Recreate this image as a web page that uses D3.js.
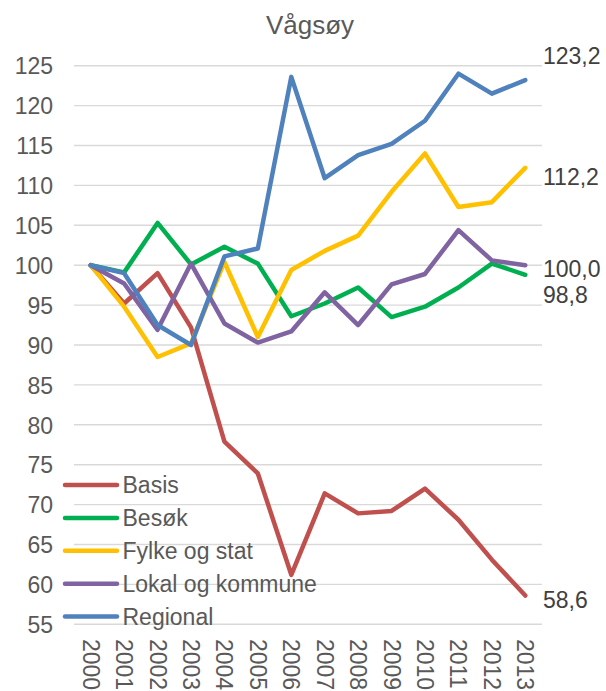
<!DOCTYPE html>
<html>
<head>
<meta charset="utf-8">
<script src="https://cdn.jsdelivr.net/npm/d3@7"></script>
<style>
  html, body { margin: 0; padding: 0; background: #fff; }
  svg { display: block; font-family: "Liberation Sans", Arial, sans-serif; }
</style>
</head>
<body>
<svg id="chart" width="606" height="691"></svg>
<script>
const title = "Vågsøy";
const years = ["2000","2001","2002","2003","2004","2005","2006","2007","2008","2009","2010","2011","2012","2013"];
const yTicks = [55,60,65,70,75,80,85,90,95,100,105,110,115,120,125];

const seriesNames = ["Basis","Besøk","Fylke og stat","Lokal og kommune","Regional"];
const basis    = [100, 95.2, 99.0, 92.2, 77.9, 73.9, 61.2, 71.4, 68.9, 69.2, 72.0, 68.1, 63.1, 58.6];
const besok    = [100, 99.1, 105.3, 100.1, 102.3, 100.2, 93.6, 95.2, 97.2, 93.5, 94.8, 97.2, 100.2, 98.8];
const fylke    = [100, 94.8, 88.5, 90.2, 100.4, 91.0, 99.4, 101.8, 103.7, 109.2, 114.0, 107.3, 107.9, 112.2];
const lokal    = [100, 97.7, 91.9, 100.2, 92.7, 90.3, 91.7, 96.6, 92.5, 97.6, 98.9, 104.4, 100.6, 100.0];
const regional = [100, 99.0, 92.5, 90.0, 101.1, 102.1, 123.6, 110.9, 113.8, 115.2, 118.1, 124.0, 121.5, 123.2];
const endLabels = ["58,6","98,8","112,2","100,0","123,2"];

const colors = ["#C0504D","#00B050","#FFC000","#8064A2","#4F81BD"];
const seriesValues = [basis, besok, fylke, lokal, regional];

(function () {
const svg = d3.select("#chart");
const pLeft = 74, pRight = 542, pTop = 65.7, pBottom = 624.3;

const x = d3.scaleBand().domain(years).range([pLeft, pRight]);
const y = d3.scaleLinear().domain([55,125]).range([pBottom, pTop]);
const cx = d => x(d) + x.bandwidth()/2;

// title
svg.append("text").attr("x", 310).attr("y", 33.5).attr("text-anchor","middle")
  .attr("font-size", 26).attr("fill", "#595959").text(title);

// gridlines
svg.append("g").selectAll("line").data(yTicks).join("line")
  .attr("x1", pLeft).attr("x2", pRight)
  .attr("y1", d => y(d)).attr("y2", d => y(d))
  .attr("stroke", "#D9D9D9").attr("stroke-width", 1.4);

// y axis labels
const yAxis = d3.axisLeft(y).tickValues(yTicks).tickSize(0).tickPadding(0).tickFormat(d3.format("d"));
const gy = svg.append("g").attr("transform", `translate(${53},0)`).call(yAxis);
gy.select(".domain").remove();
gy.selectAll("text").attr("font-size", 23).attr("fill", "#595959")
  .attr("font-family", "Liberation Sans, Arial, sans-serif").attr("dy", "0.36em");

// x axis labels
const xAxis = d3.axisBottom(x).tickSize(0).tickPadding(0);
const gx = svg.append("g").attr("transform", `translate(0,${639})`).call(xAxis);
gx.select(".domain").remove();
gx.selectAll("text").attr("font-size", 23).attr("fill", "#595959")
  .attr("font-family", "Liberation Sans, Arial, sans-serif")
  .attr("text-anchor", "start").attr("transform", "rotate(90)")
  .attr("x", 0).attr("y", 0).attr("dy", "0.35em").attr("dx", 0);

// lines
const line = d3.line().x((d,i) => cx(years[i])).y(d => y(d)).curve(d3.curveLinear);
const drawOrder = [0,1,2,3,4];
svg.append("g").selectAll("path").data(drawOrder).join("path")
  .attr("d", i => line(seriesValues[i]))
  .attr("fill", "none").attr("stroke", i => colors[i])
  .attr("stroke-width", 4.5).attr("stroke-linejoin", "round").attr("stroke-linecap", "round");

// end labels
const labelShift = [4.4, 20, 9, 3.3, -24];
svg.append("g").selectAll("text").data(drawOrder).join("text")
  .attr("x", 543)
  .attr("y", i => y(seriesValues[i][years.length-1]) + labelShift[i])
  .attr("dy", "0.36em")
  .attr("font-size", 23).attr("fill", "#404040")
  .text(i => endLabels[i]);

// legend
const lg = svg.append("g");
seriesNames.forEach((name, i) => {
  const ly = 485 + i * 32.9;
  lg.append("line").attr("x1", 65).attr("x2", 117).attr("y1", ly).attr("y2", ly)
    .attr("stroke", colors[i]).attr("stroke-width", 4.5).attr("stroke-linecap", "round");
  lg.append("text").attr("x", 122.5).attr("y", ly).attr("dy", "0.36em")
    .attr("font-size", 23).attr("fill", "#595959").text(name);
});
})();
</script>
</body>
</html>
